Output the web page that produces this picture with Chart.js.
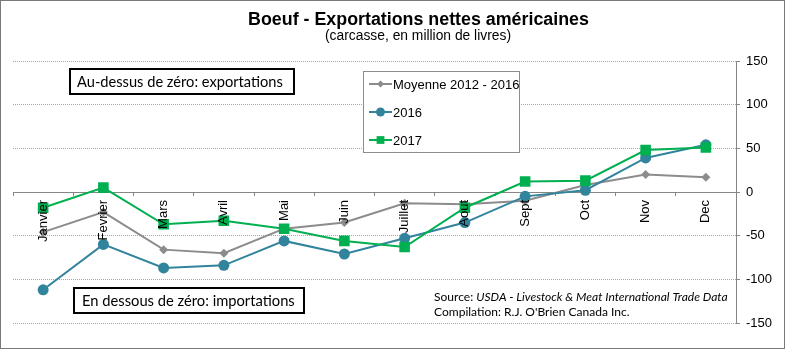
<!DOCTYPE html>
<html>
<head>
<meta charset="utf-8">
<script src="https://cdn.jsdelivr.net/npm/chart.js@4.4.1/dist/chart.umd.min.js"></script>
<style>
  body { margin: 0; background: #fff; }
  #myChart { display: block; }
</style>
</head>
<body>
<canvas id="myChart" width="785" height="349"></canvas>
<script>
const months = ["Janvier", "Fevrier", "Mars", "Avril", "Mai", "Juin", "Juillet", "Aout", "Sept", "Oct", "Nov", "Dec"];
const moyenne = [-46, -23, -66, -70, -42, -35, -13, -14, -10, 8, 20, 17];
const data2016 = [-112, -60, -87, -84, -56, -71, -53, -35, -5, 2, 39, 54];
const data2017 = [-18, 5, -37, -33, -42, -56, -63, -18, 12, 13, 48, 51];
const yMin = -150;
const yMax = 150;
const yStep = 50;

const ARIAL = "'Liberation Sans', Arial, sans-serif";
const CALIBRI = "Lato, 'Open Sans', sans-serif";

// font size so that text comes out at the wanted width
function fitSize(ctx, text, weight, family, width) {
    ctx.font = weight + " 20px " + family;
    return 20 * width / ctx.measureText(text).width;
}

const extras = {
    id: "extras",
    afterDatasetsDraw(chart) {
        const ctx = chart.ctx;
        ctx.save();

        // title + subtitle
        let t = "Boeuf - Exportations nettes américaines";
        let s = fitSize(ctx, t, "bold", ARIAL, 341);
        ctx.font = "bold " + s + "px " + ARIAL;
        ctx.fillStyle = "#000";
        ctx.textAlign = "center";
        ctx.textBaseline = "alphabetic";
        ctx.fillText(t, 418.5, 25);
        t = "(carcasse, en million de livres)";
        s = fitSize(ctx, t, "normal", ARIAL, 186);
        ctx.font = s + "px " + ARIAL;
        ctx.fillText(t, 418, 40);

        // text boxes
        ctx.textAlign = "left";
        ctx.lineWidth = 2;
        ctx.strokeStyle = "#000";
        ctx.fillStyle = "#fff";
        ctx.fillRect(70, 69, 224, 25);
        ctx.strokeRect(70, 69, 224, 25);
        ctx.fillRect(74, 288, 230, 25);
        ctx.strokeRect(74, 288, 230, 25);
        ctx.fillStyle = "#000";
        t = "Au-dessus de zéro: exportations";
        s = fitSize(ctx, t, "normal", CALIBRI, 206);
        ctx.font = s + "px " + CALIBRI;
        ctx.textBaseline = "middle";
        ctx.fillText(t, 77, 82);
        t = "En dessous de zéro: importations";
        s = fitSize(ctx, t, "normal", CALIBRI, 213);
        ctx.font = s + "px " + CALIBRI;
        ctx.fillText(t, 82, 301);

        // source
        const a = "Source: ";
        const b = "USDA - Livestock & Meat International Trade Data";
        ctx.font = "20px " + CALIBRI;
        let w = ctx.measureText(a).width;
        ctx.font = "italic 20px " + CALIBRI;
        w += ctx.measureText(b).width;
        s = 20 * 294 / w;
        ctx.textBaseline = "alphabetic";
        ctx.font = s + "px " + CALIBRI;
        ctx.fillText(a, 434, 301);
        const wa = ctx.measureText(a).width;
        ctx.font = "italic " + s + "px " + CALIBRI;
        ctx.fillText(b, 434 + wa, 301);
        ctx.font = s + "px " + CALIBRI;
        ctx.fillText("Compilation: R.J. O'Brien Canada Inc.", 434, 316);

        // legend
        ctx.fillStyle = "#fff";
        ctx.fillRect(363.5, 71.5, 156, 81);
        ctx.lineWidth = 1;
        ctx.strokeStyle = "#8c8c8c";
        ctx.strokeRect(363.5, 71.5, 156, 81);
        const rows = [84, 112, 140];
        const legendOrder = [2, 1, 0];
        const legendRadius = [3.5, 4.5, 5.5];
        legendOrder.forEach((di, i) => {
            const ds = chart.data.datasets[di];
            const y = rows[i];
            ctx.strokeStyle = ds.borderColor;
            ctx.lineWidth = 2;
            ctx.beginPath();
            ctx.moveTo(369, y);
            ctx.lineTo(392, y);
            ctx.stroke();
            ctx.fillStyle = ds.pointBackgroundColor;
            ctx.strokeStyle = ds.borderColor;
            Chart.helpers.drawPoint(ctx, {
                pointStyle: ds.pointStyle,
                radius: legendRadius[i],
                rotation: 0,
                borderWidth: 0
            }, 380.5, y);
            ctx.fillStyle = "#000";
            ctx.font = "13px " + ARIAL;
            ctx.textBaseline = "middle";
            ctx.fillText(ds.label, 393, y + 1);
        });

        ctx.restore();
    },
    afterDraw(chart) {
        const ctx = chart.ctx;
        ctx.save();
        ctx.strokeStyle = "#7a7a7a";
        ctx.lineWidth = 1;
        ctx.strokeRect(0.5, 0.5, 784, 348);
        ctx.restore();
    }
};

new Chart(document.getElementById("myChart"), {
    type: "line",
    data: {
        labels: months,
        datasets: [
            {
                label: "2017",
                data: data2017,
                borderColor: "#00b050",
                backgroundColor: "#00b050",
                pointBackgroundColor: "#00b050",
                pointBorderColor: "#00b050",
                pointStyle: "rect",
                pointRadius: 7.5,
                pointBorderWidth: 0,
                borderWidth: 2,
                order: 0
            },
            {
                label: "2016",
                data: data2016,
                borderColor: "#31849b",
                backgroundColor: "#31849b",
                pointBackgroundColor: "#31849b",
                pointBorderColor: "#31849b",
                pointStyle: "circle",
                pointRadius: 5.5,
                pointBorderWidth: 0,
                borderWidth: 2,
                order: 1
            },
            {
                label: "Moyenne 2012 - 2016",
                data: moyenne,
                borderColor: "#8c8c8c",
                backgroundColor: "#8c8c8c",
                pointBackgroundColor: "#8c8c8c",
                pointBorderColor: "#8c8c8c",
                pointStyle: "rectRot",
                pointRadius: 4.5,
                pointBorderWidth: 0,
                borderWidth: 2,
                order: 2
            }
        ]
    },
    options: {
        responsive: false,
        devicePixelRatio: 1,
        animation: false,
        layout: { padding: { left: 13, top: 61, bottom: 26, right: 0 } },
        plugins: {
            legend: { display: false },
            tooltip: { enabled: false }
        },
        scales: {
            x: {
                type: "category",
                position: { y: 0 },
                offset: true,
                grid: {
                    display: true,
                    drawOnChartArea: false,
                    drawTicks: true,
                    tickLength: 4,
                    tickColor: "#868686",
                    offset: true
                },
                border: { display: false },
                ticks: {
                    z: 1,
                    minRotation: 90,
                    maxRotation: 90,
                    autoSkip: false,
                    padding: 4,
                    color: "#000",
                    font: { family: ARIAL, size: 13 }
                }
            },
            y: {
                position: "right",
                min: yMin,
                max: yMax,
                afterFit(scale) { scale.width = 49; },
                grid: {
                    color: (c) => (c.tick && c.tick.value === 0) ? "#868686" : "#a6a6a6",
                    lineWidth: 1,
                    drawTicks: true,
                    tickLength: 4,
                    tickColor: "#868686"
                },
                border: {
                    display: true,
                    color: "#868686",
                    width: 1,
                    dash: (c) => (c.tick && c.tick.value !== 0) ? [1, 1] : []
                },
                ticks: {
                    stepSize: yStep,
                    padding: 6,
                    color: "#000",
                    font: { family: ARIAL, size: 13 }
                }
            }
        }
    },
    plugins: [extras]
});
</script>
</body>
</html>
